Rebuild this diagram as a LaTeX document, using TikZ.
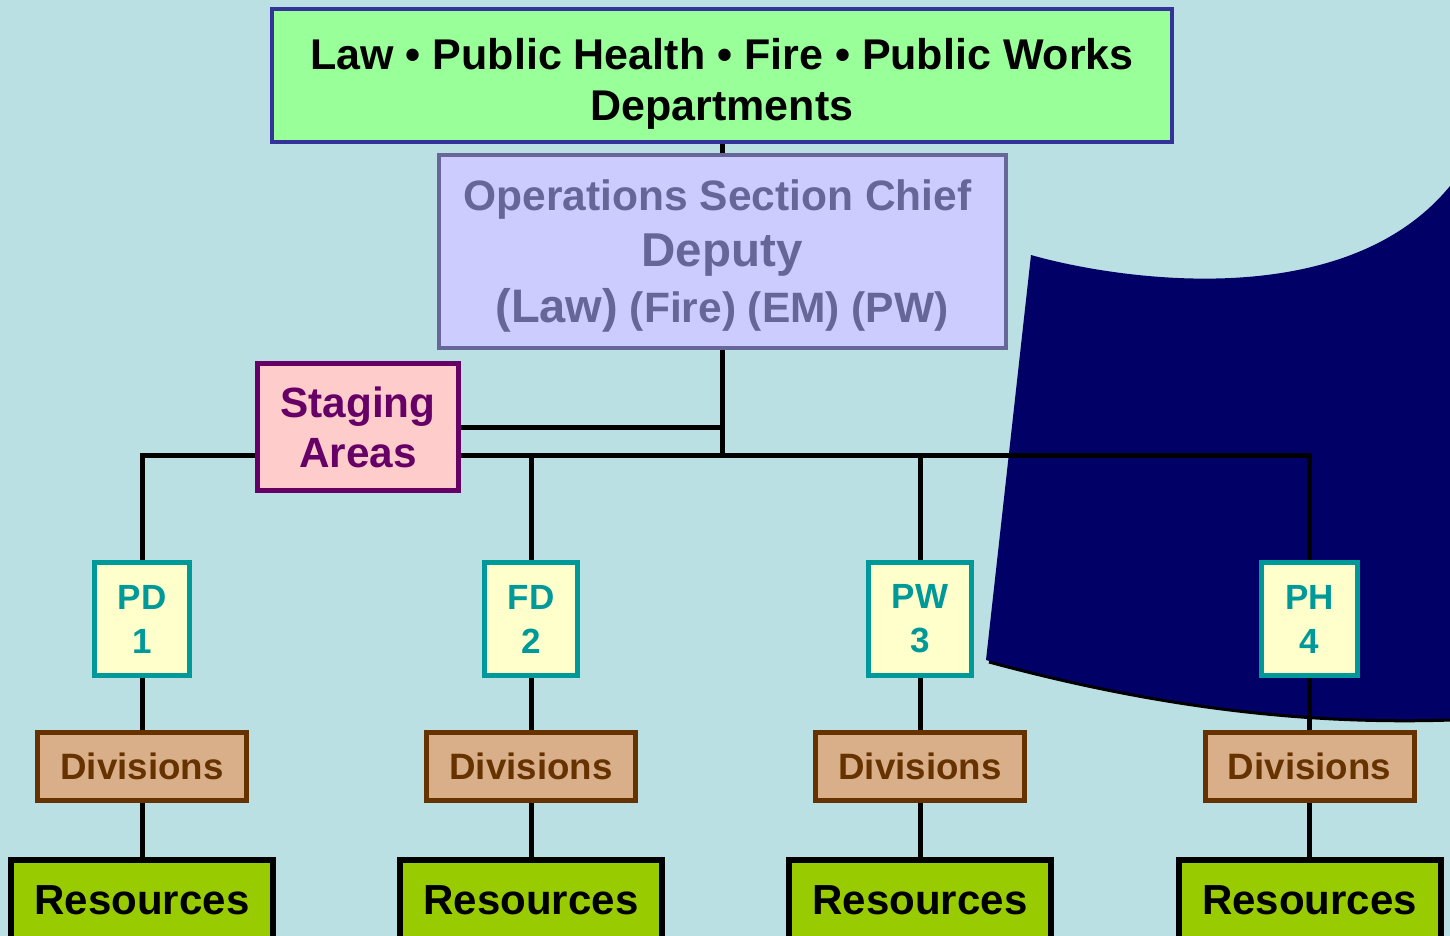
\documentclass[tikz,border=0pt]{standalone}
\usepackage{fontspec}
\setmainfont{Liberation Sans}
\pgfdeclarelayer{bg}
\pgfdeclarelayer{lines}
\pgfsetlayers{bg,lines,main}
\definecolor{bgblue}{RGB}{187,224,227}
\definecolor{navy}{RGB}{0,0,102}
\definecolor{topfill}{RGB}{153,255,153}
\definecolor{topdraw}{RGB}{51,51,153}
\definecolor{opsfill}{RGB}{204,204,255}
\definecolor{opsdraw}{RGB}{102,102,153}
\definecolor{stgfill}{RGB}{255,204,204}
\definecolor{stgdraw}{RGB}{102,0,102}
\definecolor{unitfill}{RGB}{255,255,204}
\definecolor{unitdraw}{RGB}{0,153,153}
\definecolor{divfill}{RGB}{217,175,137}
\definecolor{divdraw}{RGB}{102,51,0}
\definecolor{resfill}{RGB}{153,204,0}
\tikzset{
  box/.style={rectangle, inner sep=0pt, align=center},
  topbox/.style={box, fill=topfill, draw=topdraw, line width=4pt, minimum width=900pt, minimum height=133pt,
    font=\fontsize{43}{51}\selectfont\bfseries},
  opsbox/.style={box, fill=opsfill, draw=opsdraw, text=opsdraw, line width=4pt, minimum width=567pt, minimum height=193pt,
    font=\fontsize{42.5}{56}\selectfont\bfseries},
  stgbox/.style={box, fill=stgfill, draw=stgdraw, text=stgdraw, line width=5pt, minimum width=201pt, minimum height=127pt,
    font=\fontsize{42.3}{50}\selectfont\bfseries},
  unitbox/.style={box, fill=unitfill, draw=unitdraw, text=unitdraw, line width=5pt, minimum height=113pt,
    font=\fontsize{35}{44}\selectfont\bfseries},
  divbox/.style={box, fill=divfill, draw=divdraw, text=divdraw, line width=5pt, minimum width=209pt, minimum height=68pt,
    font=\fontsize{36.7}{44}\selectfont\bfseries},
  resbox/.style={box, fill=resfill, draw=black, text=black, line width=6pt, minimum width=262pt, minimum height=80pt,
    font=\fontsize{42}{50}\selectfont\bfseries},
  conn/.style={draw=black, line width=5pt},
}
\begin{document}
\begin{tikzpicture}[x=1pt,y=-1pt]
\useasboundingbox (0,0) rectangle (1450,936);
\begin{pgfonlayer}{bg}
\fill[bgblue] (0,0) rectangle (1450,936);
\begin{scope}
\clip (0,0) rectangle (1450,936);
\fill[navy] (1031,255) .. controls (1100,275) and (1340,320) .. (1450,186)
  -- (1460,186) -- (1460,720) -- (1450,720) .. controls (1300,725) and (1150,705) .. (986,660) -- cycle;
\draw[black, line width=3pt] (989,662) .. controls (1152,706) and (1300,725) .. (1452,720);
\end{scope}
\end{pgfonlayer}

\node[topbox] (top) at (722,75.5) {\rule{0pt}{47pt}Law • Public Health • Fire • Public Works\\Departments};
\node[opsbox] (ops) at (722,251.5) {\rule{0pt}{40pt}Operations Section Chief\hspace*{9pt}\\{\fontsize{47.5}{56}\selectfont Deputy\hspace*{11pt}}\\{\fontsize{47}{56}\selectfont (Law)} (Fire) (EM) (PW)};
\node[stgbox] (stg) at (358,427) {Staging\\Areas};

\node[unitbox, minimum width=95pt] (pd) at (142,619) {PD\\1};
\node[unitbox, minimum width=93pt] (fd) at (531,619) {FD\\2};
\node[unitbox, minimum width=103pt] (pw) at (920,619) {PW\\3};
\node[unitbox, minimum width=96pt] (ph) at (1309.5,619) {PH\\4};

\node[divbox] (d1) at (142,766.5) {Divisions};
\node[divbox] (d2) at (531,766.5) {Divisions};
\node[divbox] (d3) at (920,766.5) {Divisions};
\node[divbox] (d4) at (1309.5,766.5) {Divisions};

\node[resbox] (r1) at (142,900) {Resources};
\node[resbox] (r2) at (531,900) {Resources};
\node[resbox] (r3) at (920,900) {Resources};
\node[resbox] (r4) at (1309.5,900) {Resources};

\coordinate (j) at (722,455);
\coordinate (k) at (724.5,427);
\begin{pgfonlayer}{lines}
\draw[conn] (top.south) -- (ops.north);
\draw[conn] (ops.south) -- (j);
\draw[conn] (stg.east) -- (k);
\draw[conn] (pd.north) -- (pd.north |- j) -- (ph.north |- j) -- (ph.north);
\draw[conn] (fd.north) -- (fd.north |- j);
\draw[conn] (pw.north) -- (pw.north |- j);
\draw[conn] (pd.south) -- (d1.north);
\draw[conn] (fd.south) -- (d2.north);
\draw[conn] (pw.south) -- (d3.north);
\draw[conn] (ph.south) -- (d4.north);
\draw[conn] (d1.south) -- (r1.north);
\draw[conn] (d2.south) -- (r2.north);
\draw[conn] (d3.south) -- (r3.north);
\draw[conn] (d4.south) -- (r4.north);
\end{pgfonlayer}
\end{tikzpicture}
\end{document}
